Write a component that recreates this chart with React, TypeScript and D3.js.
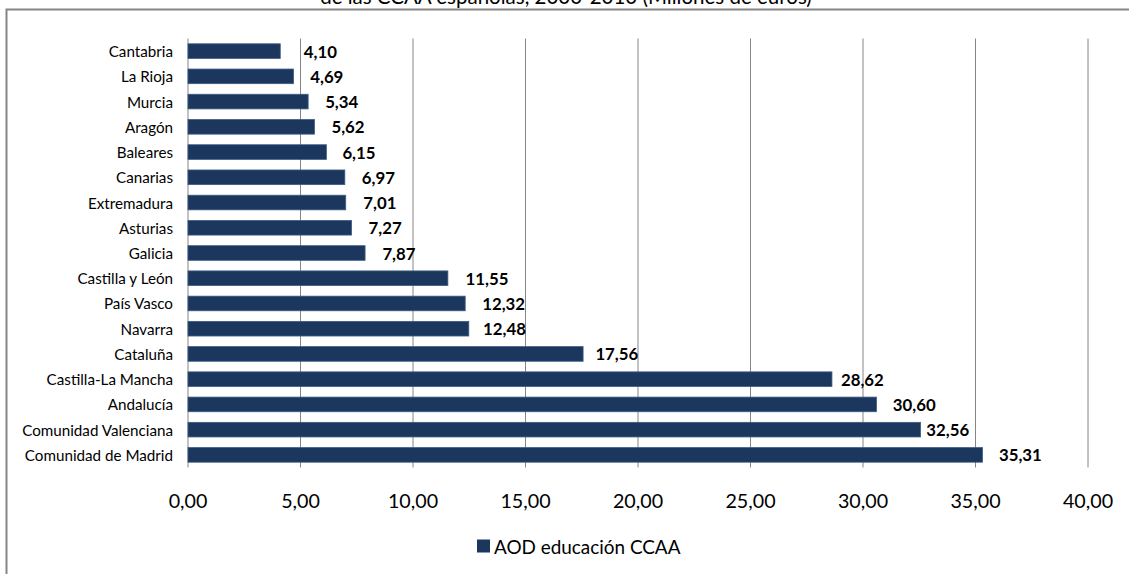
import React from "react";
import * as d3 from "d3";

const categories = [
  "Cantabria", "La Rioja", "Murcia", "Aragón", "Baleares", "Canarias", "Extremadura",
  "Asturias", "Galicia", "Castilla y León", "País Vasco", "Navarra", "Cataluña",
  "Castilla-La Mancha", "Andalucía", "Comunidad Valenciana", "Comunidad de Madrid",
];
const values = [4.10, 4.69, 5.34, 5.62, 6.15, 6.97, 7.01, 7.27, 7.87, 11.55, 12.32, 12.48, 17.56, 28.62, 30.60, 32.56, 35.31];
const xTicks = [0, 5, 10, 15, 20, 25, 30, 35, 40];
const seriesName = "AOD educación CCAA";
const titleText = "de las CCAA españolas, 2000-2010 (Millones de euros)";
// gap between bar end and data label (as placed in the original)
const labelGap = [23.5, 16.7, 17, 17, 16, 17, 17.6, 17, 17.3, 17.7, 17, 14.3, 12.3, 9, 16.3, 5.7, 16.5];

const W = 1129, H = 574;
const FONT = "Lato, 'Open Sans', sans-serif";
const BAR = "#1B375D";

const fmt = (v: number) => v.toFixed(2).replace(".", ",");

export default function App() {
  const x = d3.scaleLinear().domain([0, 40]).range([188, 1088]);
  const y = d3.scaleBand<string>().domain(categories).range([38.5, 467.5]).paddingInner(0.42).paddingOuter(0.21);
  const plotTop = 38.5, plotBottom = 467.5;

  return (
    <div style={{ position: "fixed", left: 0, top: 0 }}>
      <svg width={W} height={H} style={{ display: "block", background: "#fff" }}>
        <text x={566} y={4} textAnchor="middle" fontFamily={FONT} fontSize={20.5} fill="#000">{titleText}</text>
        {/* chart border */}
        <path d={`M6.5,${H + 5} V9.5 H${W + 5}`} fill="none" stroke="#868686" strokeWidth={2} />
        {/* gridlines */}
        {xTicks.map((t) => (
          <line key={t} x1={x(t)} x2={x(t)} y1={plotTop} y2={plotBottom} stroke="#868686" strokeWidth={1} />
        ))}
        {/* bars */}
        {categories.map((c, i) => (
          <rect key={c} x={x(0)} y={y(c)} width={x(values[i]) - x(0)} height={y.bandwidth()}
            fill={BAR} stroke="#3E5C86" strokeWidth={0.8} />
        ))}
        {/* data labels */}
        {categories.map((c, i) => (
          <text key={c} x={x(values[i]) + labelGap[i]} y={(y(c) as number) + y.bandwidth() / 2}
            dominantBaseline="central" fontFamily={FONT} fontWeight="bold" fontSize={16.8} fill="#000">
            {fmt(values[i])}
          </text>
        ))}
        {/* category labels */}
        {categories.map((c) => (
          <text key={c} x={173} y={(y(c) as number) + y.bandwidth() / 2} dominantBaseline="central"
            textAnchor="end" fontFamily={FONT} fontSize={15.2} fill="#000">{c}</text>
        ))}
        {/* x tick labels */}
        {xTicks.map((t) => (
          <text key={t} x={x(t)} y={500} dominantBaseline="central" textAnchor="middle"
            fontFamily={FONT} fontSize={19.7} fill="#000">{fmt(t)}</text>
        ))}
        {/* legend */}
        <rect x={477} y={539.5} width={13} height={13} fill={BAR} />
        <text x={494} y={546} dominantBaseline="central" fontFamily={FONT} fontSize={18.9} fill="#000">{seriesName}</text>
      </svg>
    </div>
  );
}
